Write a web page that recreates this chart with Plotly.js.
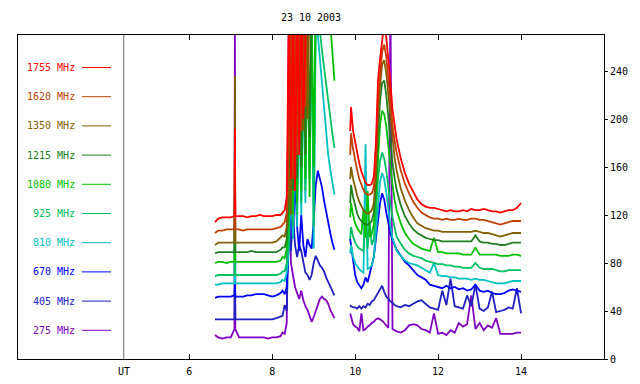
<!DOCTYPE html>
<html><head><meta charset="utf-8">
<script src="https://cdn.plot.ly/plotly-3.0.1.min.js"></script>
<style>html,body{margin:0;padding:0;background:#fff;}#chart{width:640px;height:384px;}</style>
</head><body><div id="chart"></div>
<script>
// ---------------- data ----------------
const titleText = '23 10 2003';
const timeA = [6.62, 6.7, 6.8, 6.9, 7.0, 7.09, 7.1, 7.11, 7.2, 7.3, 7.4, 7.5, 7.6, 7.7, 7.8, 7.9, 8.0, 8.1, 8.2, 8.25,
  8.3, 8.35, 8.4, 8.45, 8.5, 8.55, 8.6, 8.65, 8.7, 8.75, 8.8, 8.85, 8.9, 8.95, 9.0, 9.05, 9.1, 9.15, 9.2, 9.25, 9.3, 9.35, 9.4, 9.45, 9.5];
const gapTime = [9.7];
const timeB = [9.88, 9.9, 9.95, 10.0, 10.05, 10.1, 10.15, 10.2, 10.25, 10.3, 10.35, 10.4, 10.45, 10.5, 10.55, 10.6, 10.65, 10.7, 10.75, 10.8, 10.85, 10.9, 10.95, 11.0,
  11.1, 11.2, 11.3, 11.4, 11.5, 11.6, 11.7, 11.8, 11.9, 12.0, 12.1, 12.2, 12.3, 12.4, 12.5, 12.6, 12.7, 12.8, 12.9, 13.0,
  13.1, 13.2, 13.3, 13.4, 13.5, 13.6, 13.7, 13.8, 13.9, 14.0];

const labels = ['1755 MHz', '1620 MHz', '1350 MHz', '1215 MHz', '1080 MHz', '925 MHz', '810 MHz', '670 MHz', '405 MHz', '275 MHz'];
const colors = ['#ff0000', '#c04000', '#806000', '#208020', '#00c000', '#00c060', '#00c0c0', '#0000ff', '#2020c0', '#8000c0'];

const f1755 = [114,117,118,118,118,119,192,119,119,119,118,119,119,120,119,119,119,120,120,122,
  124,135,290,150,300,140,310,170,300,200,320,330,330,330,330,330,330,330,330,330,330,330,330,330,330,
  null,
  190,210,190,180,170,163,156,151,147,145,145,146,152,180,232,250,262,280,268,245,230,208,195,183,
  167,155,146,139,133,129,127,126,126,125,124,123,124,123,123,124,123,125,124,124,125,124,123,123,122,123,124,124,126,130];
const f1620 = [105,107,107,108,108,108,175,108,108,107,108,108,108,108,108,108,108,109,110,112,
  114,122,180,300,150,300,170,300,190,300,210,300,320,320,320,320,320,320,320,320,320,320,320,320,320,
  null,
  170,188,175,165,157,150,145,141,138,137,137,138,143,165,215,240,256,262,252,233,213,195,182,172,
  157,146,138,131,126,122,120,118,117,117,116,117,116,116,117,116,116,117,117,116,116,115,114,113,112,113,114,115,115,115];
const f1350 = [95,97,97,97,97,97,236,97,97,97,97,97,97,97,97,97,97,98,101,103,
  102,110,160,120,300,160,300,180,300,190,300,200,300,320,320,320,320,320,320,320,320,320,320,320,320,
  null,
  150,160,150,142,136,131,127,124,122,121,122,124,130,155,200,228,245,249,238,220,200,182,168,157,
  142,132,124,118,113,111,109,108,107,107,106,106,106,106,106,106,106,106,107,106,105,105,104,103,102,103,104,105,105,105];
const f1215 = [88,89,89,89,89,89,150,89,89,89,89,90,89,89,89,89,89,89,91,93,
  93,100,130,300,140,300,150,300,160,300,170,300,185,300,310,310,310,310,310,310,310,310,310,310,310,
  null,
  130,145,135,127,121,117,115,113,112,112,113,115,122,145,185,215,230,232,220,200,180,164,151,141,
  128,119,113,108,105,103,101,100,99,99,98,98,98,98,98,98,98,98,103,98,97,97,96,96,95,95,96,97,97,97];
const f1080 = [80,81,81,80,81,81,140,81,81,81,81,81,81,81,81,81,81,81,82,85,
  84,92,120,250,120,300,130,300,140,290,150,300,135,300,160,300,300,300,300,300,300,300,280,255,232,
  null,
  118,130,120,113,109,106,104,125,101,140,102,104,112,135,170,195,207,204,194,177,159,145,133,124,
  113,105,100,96,94,92,91,90,101,89,89,88,88,88,88,87,87,87,93,87,87,87,87,87,86,86,86,87,87,86];
const f925 = [69,70,70,70,70,70,120,70,70,70,70,70,70,70,70,70,70,70,71,73,
  73,80,100,200,110,250,120,300,130,260,140,280,150,300,110,300,290,270,257,243,228,214,200,188,176,
  null,
  100,110,102,97,94,92,91,90,125,92,115,95,100,120,150,165,172,167,157,142,129,118,109,102,
  96,91,88,86,85,84,82,81,80,79,79,78,78,77,77,76,76,76,80,76,75,75,75,74,73,73,74,74,74,74];
const f810 = [62,62,63,63,63,63,100,63,63,63,63,63,63,63,63,63,63,63,64,66,
  65,72,90,150,100,200,110,230,120,250,130,300,160,300,92,280,270,250,228,205,185,170,158,147,137,
  null,
  88,95,85,80,77,75,73,72,179,75,76,78,85,105,130,148,155,150,139,124,111,101,95,90,
  86,82,80,79,78,76,74,72,80,70,69,69,68,68,67,67,67,66,67,66,66,65,64,63,63,63,64,65,65,65];
const f670 = [51,52,52,52,52,53,63,52,52,52,53,53,54,54,54,53,52,53,55,57,
  54,60,90,130,100,150,110,90,120,95,85,100,95,92,115,145,157,150,143,132,122,114,105,97,91,
  null,
  100,95,80,70,64,61,59,62,68,64,70,78,85,100,118,130,138,133,122,112,105,99,95,91,
  86,81,78,74,70,68,66,62,61,60,59,61,59,60,58,59,57,58,62,57,56,57,55,54,54,55,57,58,57,56];
const f405 = [33,33,33,33,33,33,60,33,33,33,33,33,33,33,33,33,33,34,35,36,
  45,40,110,90,120,95,85,95,90,80,72,70,66,70,80,86,82,78,76,73,68,64,60,56,53,
  null,
  45,44,43,43,42,44,42,44,43,46,45,48,49,52,55,58,61,56,52,50,48,47,45,44,
  43,45,44,46,48,49,46,43,42,41,57,45,67,44,43,42,53,44,62,42,40,43,56,39,40,41,43,42,59,38];
const f275 = [20,18,17,18,18,25,300,25,18,18,18,18,18,18,18,17,18,18,19,22,
  21,30,300,80,70,60,55,50,57,49,44,41,36,31,35,40,45,50,52,50,49,46,41,38,34,
  null,
  38,35,29,27,26,23,38,24,25,27,28,30,31,33,34,33,32,30,28,26,300,25,24,23,
  22,24,28,29,28,25,24,22,38,21,22,20,24,22,30,27,29,53,25,30,24,28,26,34,21,21,21,21,22,22];

const xTicks = [6, 8, 10, 12, 14];
const yTicks = [0, 40, 80, 120, 160, 200, 240];
const utLabel = 'UT';

// ---------------- drawing ----------------
const series = [f1755, f1620, f1350, f1215, f1080, f925, f810, f670, f405, f275];
const time = timeA.concat(gapTime, timeB);
const FONT = '"DejaVu Sans Mono", monospace';
const L = 18, R = 604, T = 35, B = 359;
const px = v => (v - L) / (R - L);
const py = v => (B - v) / (B - T);
const utPos = 4.42;

const traces = [];
for (let i = series.length - 1; i >= 0; i--) {
  traces.push({x: time, y: series[i], type: 'scatter', mode: 'lines', connectgaps: false,
    line: {color: colors[i], width: 1.8}, hoverinfo: 'skip', name: labels[i]});
}

const annotations = [];
const shapes = [{type: 'line', xref: 'x', yref: 'paper', x0: utPos, x1: utPos, y0: 0, y1: 1,
  line: {color: '#707070', width: 1}, layer: 'below'}];
labels.forEach((lab, i) => {
  const yc = 67.5 + i * 29.2;
  annotations.push({xref: 'paper', yref: 'paper', x: px(77), y: py(yc), xanchor: 'right', yanchor: 'middle',
    text: lab, showarrow: false, font: {family: FONT, size: 10, color: colors[i]}});
  shapes.push({type: 'line', xref: 'paper', yref: 'paper', x0: px(82), x1: px(111), y0: py(yc), y1: py(yc),
    line: {color: colors[i], width: 1}});
});
annotations.push({xref: 'x', yref: 'paper', x: utPos, y: py(371), xanchor: 'center', yanchor: 'middle',
  text: utLabel, showarrow: false, font: {family: FONT, size: 10, color: '#000'}});

const layout = {
  width: 640, height: 384,
  margin: {l: L, r: 640 - R, t: T, b: 384 - B, pad: 0},
  paper_bgcolor: '#fff', plot_bgcolor: '#fff',
  showlegend: false,
  font: {family: FONT, size: 10, color: '#000'},
  title: {text: titleText, font: {family: FONT, size: 10, color: '#000'},
    x: 0.5, xref: 'paper', xanchor: 'center', y: 1 - 17.5 / 384, yref: 'container', yanchor: 'middle'},
  xaxis: {range: [1.87, 16.0], tickvals: xTicks, ticktext: xTicks.map(String), ticks: 'inside', ticklen: 5,
    tickcolor: '#000', showline: true, linecolor: '#000', linewidth: 1, mirror: 'ticks', ticklabelstandoff: 3,
    showgrid: false, zeroline: false, tickfont: {family: FONT, size: 10, color: '#000'}},
  yaxis: {range: [0, 270], side: 'right', tickvals: yTicks, ticktext: yTicks.map(String), ticks: 'outside', ticklen: 3,
    tickcolor: '#000', showline: true, linecolor: '#000', linewidth: 1, mirror: true,
    showgrid: false, zeroline: false, tickfont: {family: FONT, size: 10, color: '#000'}},
  annotations: annotations,
  shapes: shapes
};
Plotly.newPlot('chart', traces, layout, {staticPlot: true, displayModeBar: false});
</script>
</body></html>
